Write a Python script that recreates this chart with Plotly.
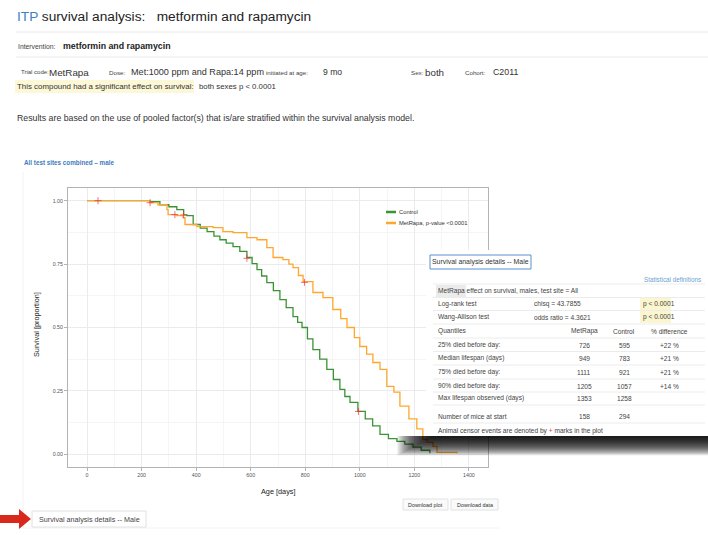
import plotly.graph_objects as go

# ---------------- data ----------------
control_days = [0, 183, 230, 267, 300, 329, 354, 366, 389, 415, 440, 465, 487, 510, 535, 560, 586, 605,
                623, 640, 659, 683, 707, 730, 755, 772, 788, 808, 828, 853, 879, 903, 927, 945, 964,
                993, 1020, 1047, 1074, 1105, 1136, 1165, 1195, 1225, 1257]
control_surv = [1.0, 1.0, 0.996, 0.984, 0.976, 0.965, 0.944, 0.941, 0.906, 0.892, 0.878, 0.860, 0.846,
                0.833, 0.819, 0.800, 0.776, 0.752, 0.728, 0.703, 0.677, 0.645, 0.610, 0.578, 0.543,
                0.520, 0.500, 0.455, 0.413, 0.375, 0.335, 0.295, 0.256, 0.228, 0.205, 0.169, 0.140,
                0.112, 0.079, 0.062, 0.051, 0.040, 0.028, 0.016, 0.004]

metrapa_days = [0, 205, 231, 260, 293, 297, 329, 352, 359, 403, 462, 498, 535, 586, 623, 659, 682, 718,
                740, 755, 775, 792, 828, 865, 901, 930, 953, 980, 1000, 1025, 1048, 1074, 1099, 1125,
                1147, 1180, 1209, 1231, 1246, 1268, 1283, 1356]
metrapa_surv = [1.0, 1.0, 0.992, 0.984, 0.965, 0.945, 0.941, 0.933, 0.906, 0.898, 0.894, 0.878, 0.874,
                0.854, 0.846, 0.815, 0.776, 0.768, 0.750, 0.736, 0.705, 0.681, 0.638, 0.618, 0.571,
                0.535, 0.500, 0.460, 0.425, 0.395, 0.362, 0.335, 0.268, 0.245, 0.190, 0.140, 0.100,
                0.059, 0.047, 0.031, 0.008, 0.004]

control_censor_days = [354, 586, 995]
control_censor_surv = [0.944, 0.773, 0.169]
metrapa_censor_days = [40, 231, 322, 797]
metrapa_censor_surv = [1.0, 0.992, 0.945, 0.678]

x_ticks = [0, 200, 400, 600, 800, 1000, 1200, 1400]
y_ticks = [0.0, 0.25, 0.5, 0.75, 1.0]
y_tick_labels = ["0.00", "0.25", "0.50", "0.75", "1.00"]

legend_labels = ["Control", "MetRapa, p-value <0.0001"]

stat_rows = [
    ["Log-rank test", "chisq = 43.7855", "p < 0.0001"],
    ["Wang-Allison test", "odds ratio = 4.3621", "p < 0.0001"],
]
quant_header = ["Quantiles", "MetRapa", "Control", "% difference"]
quant_rows = [
    ["25% died before day:", "726", "595", "+22 %"],
    ["Median lifespan (days)", "949", "783", "+21 %"],
    ["75% died before day:", "1111", "921", "+21 %"],
    ["90% died before day:", "1205", "1057", "+14 %"],
    ["Max lifespan observed (days)", "1353", "1258", ""],
]
mice_row = ["Number of mice at start", "158", "294"]

# ---------------- helpers ----------------
W, H = 708, 535
FONT = "Liberation Sans, Arial, sans-serif"
GREEN = "#3a9434"
ORANGE = "#ffa72c"
CENSOR = "rgba(235,50,60,0.7)"


def X(px):
    return px / W


def Y(py):
    return 1 - py / H


annotations = []
shapes = []


def text(px, py, s, size, color="#333333", anchor="left", bold=False, angle=0):
    annotations.append(dict(
        x=X(px), y=Y(py), xref="paper", yref="paper", text=("<b>%s</b>" % s) if bold else s,
        showarrow=False, xanchor=anchor, yanchor="middle", textangle=angle,
        font=dict(family=FONT, size=size, color=color), borderpad=0))


def rect(x0, y0, x1, y1, fill=None, line=None, lw=1, layer="above"):
    shapes.append(dict(type="rect", xref="paper", yref="paper", x0=X(x0), x1=X(x1), y0=Y(y1), y1=Y(y0),
                       fillcolor=fill if fill else "rgba(0,0,0,0)",
                       line=dict(color=line if line else "rgba(0,0,0,0)", width=lw if line else 0),
                       layer=layer))


def hline(x0, x1, py, color="#e6e6e6", lw=1, layer="above"):
    shapes.append(dict(type="line", xref="paper", yref="paper", x0=X(x0), x1=X(x1), y0=Y(py), y1=Y(py),
                       line=dict(color=color, width=lw), layer=layer))


def vline(px, y0, y1, color="#e6e6e6", lw=1, layer="above"):
    shapes.append(dict(type="line", xref="paper", yref="paper", x0=X(px), x1=X(px), y0=Y(y0), y1=Y(y1),
                       line=dict(color=color, width=lw), layer=layer))


# ---------------- figure ----------------
fig = go.Figure()
fig.add_trace(go.Scatter(x=control_days, y=control_surv, mode="lines", line=dict(color=GREEN, width=1.3, shape="hv"),
                         name=legend_labels[0], showlegend=False, hoverinfo="skip"))
fig.add_trace(go.Scatter(x=metrapa_days, y=metrapa_surv, mode="lines", line=dict(color=ORANGE, width=1.3, shape="hv"),
                         name=legend_labels[1], showlegend=False, hoverinfo="skip"))
fig.add_trace(go.Scatter(x=control_censor_days + metrapa_censor_days, y=control_censor_surv + metrapa_censor_surv,
                         mode="markers", marker=dict(symbol="cross-thin", size=5, line=dict(color=CENSOR, width=1)),
                         showlegend=False, hoverinfo="skip"))

# ---------------- page header ----------------
text(16, 16, "<span style='color:#3f7fc4'>ITP</span> survival analysis:\u00a0\u00a0 metformin and rapamycin", 13.7, "#222222")
hline(16, 708, 32, "#e8e8e8")
text(17, 46, "Intervention:", 6.8, "#444444")
text(62, 46, "metformin and rapamycin", 8.8, "#222222", bold=True)
hline(16, 708, 57, "#e8e8e8")
text(20, 72, "Trial code:", 6, "#444444")
text(48, 72, "MetRapa", 9.8, "#333333")
text(108, 72, "Dose:", 6.2, "#444444")
text(130, 72, "Met:1000 ppm and Rapa:14 ppm", 9.1, "#333333")
text(265, 72, "initiated at age:", 6.2, "#444444")
text(322, 72, "9 mo", 8.6, "#333333")
text(410, 72, "Sex:", 6.2, "#444444")
text(424, 72, "both", 9.8, "#333333")
text(464, 72, "Cohort:", 6.2, "#444444")
text(492, 72, "C2011", 8.8, "#333333")
rect(15, 80, 194, 93, fill="#fcf7d6", layer="below")
text(16, 87, "This compound had a significant effect on survival:", 7.9, "#333333")
text(198, 87, "both sexes p < 0.0001", 7.8, "#333333")
text(16, 118, "Results are based on the use of pooled factor(s) that is/are stratified within the survival analysis model.", 8.75, "#333333")

text(23, 162, "All test sites combined \u2013 male", 6.3, "#3d7cc0", bold=True)

# faint container
vline(23, 172, 528, "#f2f2f2", layer="below")
hline(23, 499, 528, "#f2f2f2", layer="below")

# axis titles
text(278, 491, "Age [days]", 7.3, "#222222", anchor="center")
text(36, 325, "Survival [proportion]", 7.3, "#222222", anchor="center", angle=-90)

# legend (drawn by hand to match the small ggplot keys)
hline(386, 396, 212, GREEN, lw=2.5)
hline(386, 396, 223, ORANGE, lw=2.5)
text(398, 212, legend_labels[0], 5.8, "#333333")
text(398, 223, legend_labels[1], 5.8, "#333333")

# download buttons
rect(403, 499, 448, 510, fill="#fafafa", line="#e2e2e2")
rect(451, 499, 498, 510, fill="#fafafa", line="#e2e2e2")
text(425.5, 504.5, "Download plot", 5.4, "#333333", anchor="center")
text(474.5, 504.5, "Download data", 5.4, "#333333", anchor="center")

# bottom button + arrow
rect(32, 511, 146, 527, fill="#ffffff", line="#e0e0e0")
text(38, 519, "Survival analysis details -- Male", 7.2, "#444444")
arrow_pts = [(0, 515), (19, 515), (19, 509), (31, 519), (19, 529), (19, 523), (0, 523)]
path = "M " + " L ".join("%f,%f" % (X(a), Y(b)) for a, b in arrow_pts) + " Z"
shapes.append(dict(type="path", xref="paper", yref="paper", path=path, fillcolor="#d9291c",
                   line=dict(width=0), layer="above"))

# ---------------- overlay table ----------------
for k in range(30):
    shapes.append(dict(type="rect", xref="paper", yref="paper",
                       x0=X(432 - k * 1.2), x1=X(708), y0=Y(436 + 0.65 * (k + 1)), y1=Y(436),
                       fillcolor="rgba(0,0,0,0.065)", line=dict(width=0), layer="above"))
rect(426, 250, 708, 436, fill="#ffffff")
shapes.append(dict(type="path", xref="paper", yref="paper",
                   path="M %f,%f L %f,%f L %f,%f L %f,%f Z" % (X(430), Y(255), X(531), Y(255), X(531), Y(269), X(430), Y(269)),
                   fillcolor="#ffffff", line=dict(color="#5b8fd0", width=1), layer="above"))
text(480.5, 262, "Survival analysis details -- Male", 6.9, "#333333", anchor="center")
text(702, 279, "Statistical definitions", 6.3, "#6a9fd4", anchor="right")

for yy in [284, 297.5, 310.5, 324, 338, 351.5, 365, 379, 392, 405, 423]:
    hline(433, 705, yy, "#ececec")

TS = 6.6
rect(436, 285, 466, 297, fill="#ebebeb")
text(437, 291, "MetRapa effect on survival, males, test site = All", TS, "#444444")

row_y = [304, 317]
for r, yy in zip(stat_rows, row_y):
    rect(640, yy - 6, 671, yy + 6, fill="#fbf6cf")
    text(437, yy, r[0], TS, "#444444")
    text(533, yy, r[1], TS, "#444444")
    text(642, yy, r[2], TS, "#444444")

cols_x = [584, 624, 669]
qy = [331, 345, 358, 372, 386, 398]
for r, yy in zip([quant_header] + quant_rows, qy):
    text(437, yy, r[0], TS, "#444444")
    for v, cx in zip(r[1:], cols_x):
        if v:
            text(cx, yy, v, TS, "#444444", anchor="center")
text(437, 416, mice_row[0], TS, "#444444")
for v, cx in zip(mice_row[1:], cols_x):
    text(cx, 416, v, TS, "#444444", anchor="center")
text(437, 431, "Animal censor events are denoted by <span style='color:#e8323c'>+</span> marks in the plot", TS, "#444444")

# ---------------- layout ----------------
fig.update_layout(
    width=W, height=H, margin=dict(l=0, r=0, t=0, b=0),
    paper_bgcolor="white", plot_bgcolor="white", showlegend=False,
    font=dict(family=FONT),
    annotations=annotations, shapes=shapes,
    xaxis=dict(domain=[X(68), X(488)], range=[-70, 1470], tickvals=x_ticks,
               showline=True, mirror=True, linecolor="#b3b3b3", linewidth=1,
               showgrid=True, gridcolor="#ebebeb", gridwidth=1, zeroline=False,
               ticks="outside", ticklen=3, tickcolor="#b3b3b3",
               tickfont=dict(size=5.3, color="#555555", family=FONT),
               minor=dict(dtick=100, tick0=0, showgrid=True, gridcolor="#f5f5f5", gridwidth=0.6)),
    yaxis=dict(domain=[Y(467), Y(188)], range=[-0.05, 1.05], tickvals=y_ticks, ticktext=y_tick_labels,
               showline=True, mirror=True, linecolor="#b3b3b3", linewidth=1,
               showgrid=True, gridcolor="#ebebeb", gridwidth=1, zeroline=False,
               ticks="outside", ticklen=3, tickcolor="#b3b3b3",
               tickfont=dict(size=5.3, color="#555555", family=FONT),
               minor=dict(dtick=0.125, tick0=0, showgrid=True, gridcolor="#f5f5f5", gridwidth=0.6)),
)

fig.write_html("out.html", config={"displayModeBar": False},
               post_script="document.body.style.margin='0';")
